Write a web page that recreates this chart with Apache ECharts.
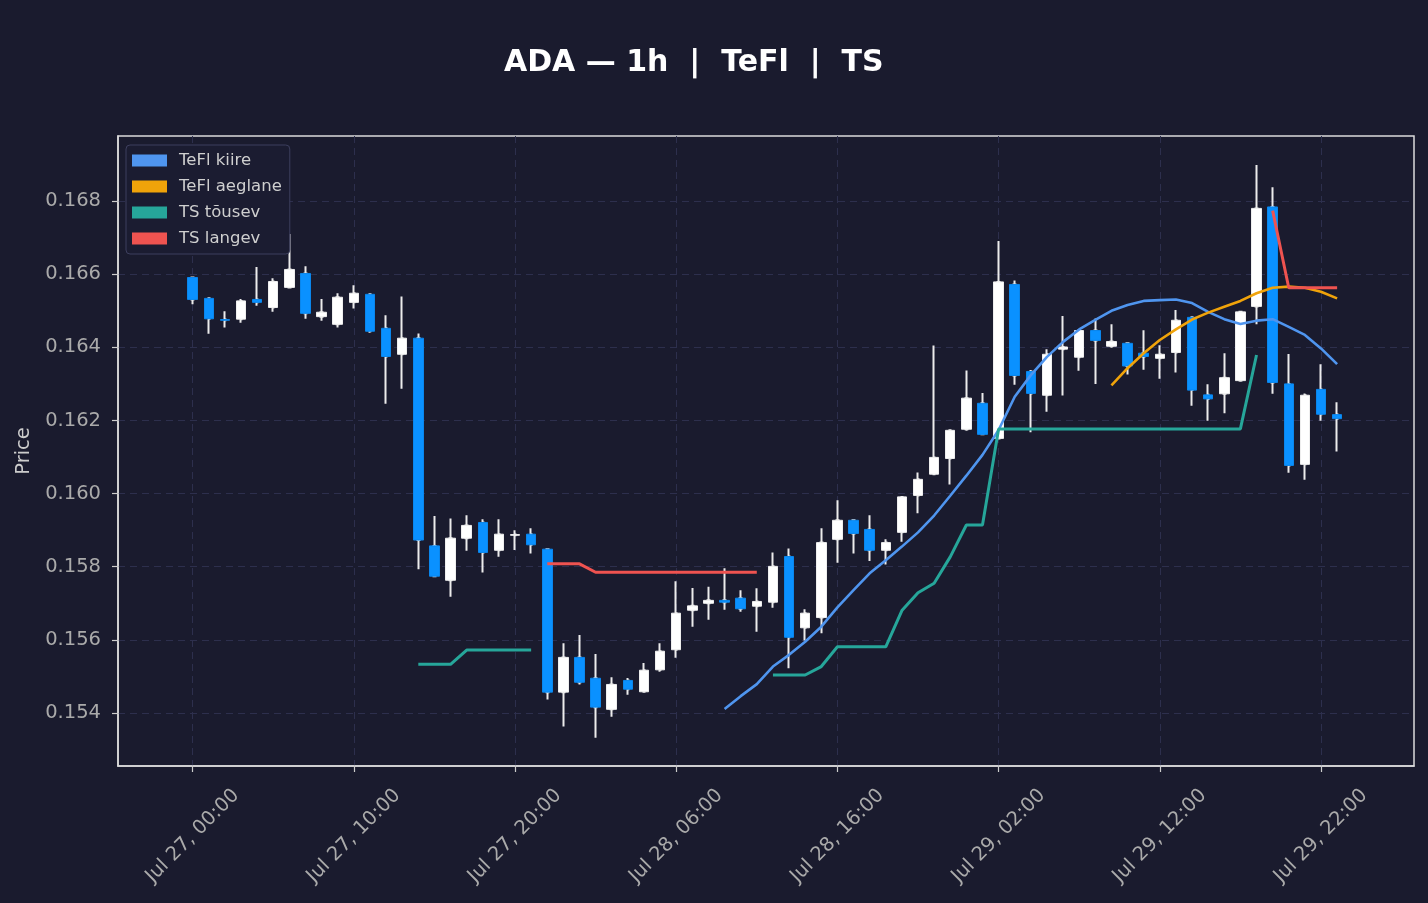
<!DOCTYPE html>
<html>
<head>
<meta charset="utf-8">
<script src="https://cdn.jsdelivr.net/npm/echarts@6/dist/echarts.min.js"></script>
<style>
  html, body { margin: 0; background: #1a1b2e; }
  #chart { width: 1428px; height: 903px; }
</style>
</head>
<body>
<div id="chart"></div>
<script>
// Hourly ADA candles, Jul 27 00:00 .. Jul 29 23:00 (index = hours from start)
const opens = [
  0.16591, 0.16534, 0.16476, 0.16477, 0.16531, 0.16509, 0.16564, 0.16602, 0.16484, 0.16463,
  0.16523, 0.16545, 0.16452, 0.16381, 0.16425, 0.15857, 0.15763, 0.15878, 0.15921, 0.15845,
  0.15886, 0.15889, 0.15848, 0.15457, 0.15552, 0.15495, 0.15410, 0.15489, 0.15458, 0.15518,
  0.15573, 0.15681, 0.15700, 0.15708, 0.15714, 0.15692, 0.15703, 0.15828, 0.15633, 0.15661,
  0.15875, 0.15927, 0.15902, 0.15845, 0.15894, 0.15995, 0.16053, 0.16096, 0.16176, 0.16247,
  0.16151, 0.16572, 0.16334, 0.16269, 0.16395, 0.16373, 0.16446, 0.16403, 0.16411, 0.16384,
  0.16370, 0.16386, 0.16482, 0.16270, 0.16273, 0.16309, 0.16512, 0.16784, 0.16300, 0.16080,
  0.16285, 0.16216
]
const closes = [
  0.16531, 0.16478, 0.16474, 0.16527, 0.16523, 0.16580, 0.16613, 0.16493, 0.16496, 0.16537,
  0.16548, 0.16444, 0.16375, 0.16425, 0.15873, 0.15774, 0.15878, 0.15913, 0.15839, 0.15889,
  0.15888, 0.15860, 0.15457, 0.15552, 0.15484, 0.15416, 0.15478, 0.15465, 0.15517, 0.15569,
  0.15673, 0.15693, 0.15708, 0.15703, 0.15685, 0.15705, 0.15801, 0.15607, 0.15673, 0.15866,
  0.15927, 0.15891, 0.15845, 0.15866, 0.15991, 0.16039, 0.16099, 0.16173, 0.16261, 0.16162,
  0.16579, 0.16323, 0.16274, 0.16381, 0.16401, 0.16446, 0.16419, 0.16416, 0.16349, 0.16375,
  0.16381, 0.16474, 0.16283, 0.16259, 0.16317, 0.16497, 0.16780, 0.16304, 0.16077, 0.16269,
  0.16217, 0.16205
]
const lows = [
  0.16518, 0.16437, 0.16454, 0.16467, 0.16514, 0.16497, 0.16564, 0.16478, 0.16473, 0.16454,
  0.16506, 0.16440, 0.16246, 0.16287, 0.15793, 0.15774, 0.15718, 0.15844, 0.15784, 0.15827,
  0.15846, 0.15836, 0.15437, 0.15363, 0.15478, 0.15332, 0.15390, 0.15450, 0.15458, 0.15513,
  0.15551, 0.15636, 0.15655, 0.15682, 0.15677, 0.15622, 0.15688, 0.15522, 0.15598, 0.15618,
  0.15811, 0.15836, 0.15816, 0.15806, 0.15868, 0.15946, 0.16053, 0.16025, 0.16172, 0.16162,
  0.16151, 0.16298, 0.16168, 0.16224, 0.16268, 0.16336, 0.16300, 0.16399, 0.16326, 0.16339,
  0.16314, 0.16331, 0.16240, 0.16199, 0.16220, 0.16306, 0.16463, 0.16273, 0.16057, 0.16038,
  0.16199, 0.16115
]
const highs = [
  0.16591, 0.16537, 0.16499, 0.16532, 0.16620, 0.16589, 0.16710, 0.16622, 0.16532, 0.16548,
  0.16570, 0.16545, 0.16488, 0.16539, 0.16438, 0.15939, 0.15932, 0.15941, 0.15930, 0.15930,
  0.15900, 0.15905, 0.15850, 0.15591, 0.15613, 0.15561, 0.15498, 0.15496, 0.15537, 0.15591,
  0.15760, 0.15742, 0.15745, 0.15796, 0.15736, 0.15741, 0.15839, 0.15850, 0.15684, 0.15905,
  0.15982, 0.15930, 0.15941, 0.15875, 0.15991, 0.16058, 0.16405, 0.16173, 0.16337, 0.16275,
  0.16691, 0.16583, 0.16338, 0.16395, 0.16486, 0.16446, 0.16479, 0.16463, 0.16411, 0.16447,
  0.16406, 0.16502, 0.16482, 0.16299, 0.16384, 0.16497, 0.16899, 0.16838, 0.16382, 0.16274,
  0.16354, 0.16250
]

// indicator lines (null = no value)
const tefKiire = [
  null, null, null, null, null, null, null, null, null, null,
  null, null, null, null, null, null, null, null, null, null,
  null, null, null, null, null, null, null, null, null, null,
  null, null, null, 0.15411, 0.15446, 0.15479, 0.15527, 0.15559, 0.15595, 0.15636,
  0.15689, 0.15736, 0.15782, 0.15818, 0.15855, 0.15894, 0.15940, 0.15994, 0.16049, 0.16106,
  0.16174, 0.16265, 0.16324, 0.16374, 0.16415, 0.16449, 0.16475, 0.16500, 0.16516, 0.16527,
  0.16529, 0.16531, 0.16521, 0.16497, 0.16477, 0.16464, 0.16473, 0.16477, 0.16456, 0.16434,
  0.16397, 0.16354
]
const tefAeglane = [
  null, null, null, null, null, null, null, null, null, null,
  null, null, null, null, null, null, null, null, null, null,
  null, null, null, null, null, null, null, null, null, null,
  null, null, null, null, null, null, null, null, null, null,
  null, null, null, null, null, null, null, null, null, null,
  null, null, null, null, null, null, null, 0.16296, 0.16343, 0.16384,
  0.16420, 0.16449, 0.16476, 0.16495, 0.16511, 0.16527, 0.16548, 0.16563, 0.16566, 0.16563,
  0.16552, 0.16534
]
const tsTousev = [
  null, null, null, null, null, null, null, null, null, null,
  null, null, null, null, 0.15533, 0.15533, 0.15533, 0.15572, 0.15572, 0.15572,
  0.15572, 0.15572, null, null, null, null, null, null, null, null,
  null, null, null, null, null, null, 0.15504, 0.15504, 0.15504, 0.15527,
  0.15581, 0.15581, 0.15581, 0.15581, 0.15680, 0.15729, 0.15755, 0.15827, 0.15914, 0.15914,
  0.16177, 0.16177, 0.16177, 0.16177, 0.16177, 0.16177, 0.16177, 0.16177, 0.16177, 0.16177,
  0.16177, 0.16177, 0.16177, 0.16177, 0.16177, 0.16177, 0.16379, null, null, null,
  null, null
]
const tsLangev = [
  null, null, null, null, null, null, null, null, null, null,
  null, null, null, null, null, null, null, null, null, null,
  null, null, 0.15808, 0.15808, 0.15808, 0.15785, 0.15785, 0.15785, 0.15785, 0.15785,
  0.15785, 0.15785, 0.15785, 0.15785, 0.15785, 0.15785, null, null, null, null,
  null, null, null, null, null, null, null, null, null, null,
  null, null, null, null, null, null, null, null, null, null,
  null, null, null, null, null, null, null, 0.16774, 0.16563, 0.16563,
  0.16563, 0.16563
]

// axis ticks
const xTickHours = [0, 10, 20, 30, 40, 50, 60, 70]
const yTicks = [0.154, 0.156, 0.158, 0.160, 0.162, 0.164, 0.166, 0.168]

const FONT = "DejaVu Sans"
const BG = "#1a1b2e"
const GRID_LINE = "#2d2f4d"

const hourLabel = (h) => {
  const day = 27 + Math.floor(h / 24)
  const hh = String(h % 24).padStart(2, "0")
  return `Jul ${day}, ${hh}:00`
}

// full candles for wicks, body-only candles drawn on top
const wickRows = opens.map((o, i) => [i, o, closes[i], lows[i], highs[i]])
const bodyRows = opens.map((o, i) => [i, o, closes[i], Math.min(o, closes[i]), Math.max(o, closes[i])])
const toPoints = (arr) => arr.map((v, i) => [i, v])

const lineSeries = (name, arr, color, width) => ({
  name,
  type: "line",
  data: toPoints(arr),
  color,
  showSymbol: false,
  symbol: "none",
  connectNulls: false,
  lineStyle: { color, width },
  z: 4,
})

const chart = echarts.init(document.getElementById("chart"))

const option = {
  backgroundColor: BG,
  animation: false,
  graphic: [
    {
      type: "text",
      left: 504,
      top: 48,
      style: {
        text: "ADA \u2014 1h  |  TeFl  |  TS",
        fill: "#ffffff",
        font: `bold 30px ${FONT}`,
      },
    },
  ],
  legend: {
    data: ["TeFl kiire", "TeFl aeglane", "TS tõusev", "TS langev"],
    orient: "vertical",
    left: 126,
    top: 145,
    padding: [7, 8, 7, 6],
    itemWidth: 35,
    itemHeight: 12,
    itemGap: 9,
    icon: "rect",
    backgroundColor: "#1b1c31",
    borderColor: "#3d3f5e",
    borderWidth: 1,
    borderRadius: 4,
    textStyle: { color: "#cfcfcf", fontFamily: FONT, fontSize: 16.5, padding: [0, 0, 0, 7] },
  },
  grid: {
    left: 118,
    right: 14,
    top: 136,
    bottom: 137,
    show: true,
    borderColor: "#dcdcdc",
    borderWidth: 1.5,
    backgroundColor: "transparent",
  },
  xAxis: {
    type: "value",
    min: -4.63,
    max: 75.77,
    axisLine: { show: true, onZero: false, lineStyle: { color: "#dcdcdc", width: 1.5 } },
    axisTick: { show: true, customValues: xTickHours, length: 6, lineStyle: { color: "#cccccc", width: 1.2 } },
    axisLabel: {
      customValues: xTickHours,
      formatter: (v) => hourLabel(v),
      rotate: 45,
      align: "center",
      verticalAlign: "middle",
      margin: 70,
      color: "#aaaaaa",
      fontFamily: FONT,
      fontSize: 19.5,
    },
    splitLine: { show: true, lineStyle: { color: GRID_LINE, type: [7, 5], width: 1 } },
  },
  yAxis: {
    type: "value",
    min: 0.15255,
    max: 0.16978,
    name: "Price",
    nameLocation: "middle",
    nameGap: 82,
    nameTextStyle: { color: "#cccccc", fontFamily: FONT, fontSize: 19.5 },
    axisLine: { show: true, onZero: false, lineStyle: { color: "#dcdcdc", width: 1.5 } },
    axisTick: { show: true, customValues: yTicks, length: 6, lineStyle: { color: "#cccccc", width: 1.2 } },
    axisLabel: {
      customValues: yTicks,
      formatter: (v) => v.toFixed(3),
      margin: 17,
      color: "#aaaaaa",
      fontFamily: FONT,
      fontSize: 19.5,
    },
    splitLine: { show: true, lineStyle: { color: GRID_LINE, type: [7, 5], width: 1 } },
  },
  series: [
    {
      name: "wicks",
      type: "candlestick",
      data: wickRows,
      encode: { x: 0, y: [1, 2, 3, 4] },
      barWidth: 2,
      silent: true,
      itemStyle: {
        color: "#ececec",
        color0: "#ececec",
        borderColor: "#ececec",
        borderColor0: "#ececec",
        borderWidth: 2,
      },
      z: 2,
    },
    {
      name: "bodies",
      type: "candlestick",
      data: bodyRows,
      encode: { x: 0, y: [1, 2, 3, 4] },
      barWidth: 10,
      itemStyle: {
        color: "#ffffff",
        color0: "#0a91ff",
        borderColor: "#eeeeee",
        borderColor0: "#0a86ec",
        borderWidth: 1,
      },
      z: 3,
    },
    lineSeries("TeFl kiire", tefKiire, "#4f95ef", 2.6),
    lineSeries("TeFl aeglane", tefAeglane, "#f0a30a", 2.6),
    lineSeries("TS tõusev", tsTousev, "#26a69a", 3),
    lineSeries("TS langev", tsLangev, "#ef5350", 3),
  ],
}

chart.setOption(option)

window.addEventListener("resize", () => chart.resize())
</script>
</body>
</html>
